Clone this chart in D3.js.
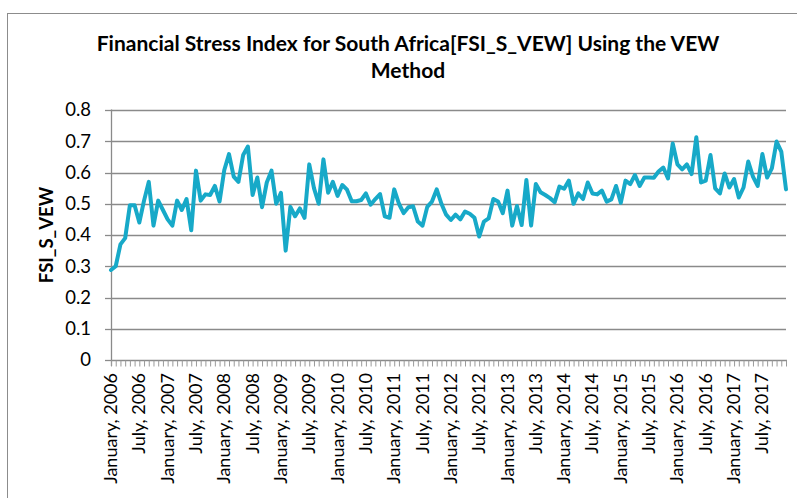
<!DOCTYPE html>
<html>
<head>
<meta charset="utf-8">
<script src="https://cdn.jsdelivr.net/npm/d3@7"></script>
<style>
  html, body { margin: 0; padding: 0; background: #fff; }
  svg { display: block; }
  text { font-family: Lato, "Open Sans", sans-serif; fill: #000; }
</style>
</head>
<body>
<svg id="chart" width="797" height="498"></svg>
<script>
// ---- data ----
const titleLines = ["Financial Stress Index for South Africa[FSI_S_VEW] Using the VEW", "Method"];
const yAxisTitle = "FSI_S_VEW";
const startMonth = "2006-01";
const values = [
  0.288, 0.300, 0.370, 0.390, 0.495, 0.495, 0.440, 0.510, 0.570, 0.430, 0.510, 0.480,
  0.450, 0.430, 0.510, 0.480, 0.515, 0.415, 0.606, 0.510, 0.530, 0.528, 0.557, 0.507,
  0.608, 0.659, 0.587, 0.570, 0.656, 0.683, 0.528, 0.584, 0.489, 0.568, 0.606, 0.500,
  0.535, 0.350, 0.490, 0.460, 0.485, 0.455, 0.626, 0.550, 0.500, 0.642, 0.535, 0.570,
  0.525, 0.560, 0.545, 0.508, 0.508, 0.512, 0.533, 0.497, 0.515, 0.531, 0.460, 0.455,
  0.546, 0.500, 0.470, 0.489, 0.492, 0.443, 0.430, 0.490, 0.507, 0.546, 0.500, 0.465,
  0.448, 0.465, 0.450, 0.475, 0.468, 0.455, 0.395, 0.443, 0.453, 0.515, 0.507, 0.470,
  0.542, 0.430, 0.493, 0.432, 0.576, 0.430, 0.563, 0.537, 0.528, 0.518, 0.505, 0.555,
  0.548, 0.574, 0.500, 0.533, 0.515, 0.568, 0.533, 0.530, 0.542, 0.507, 0.514, 0.557,
  0.503, 0.574, 0.563, 0.592, 0.557, 0.584, 0.584, 0.583, 0.603, 0.616, 0.581, 0.693,
  0.626, 0.610, 0.626, 0.595, 0.713, 0.568, 0.574, 0.656, 0.549, 0.533, 0.597, 0.552,
  0.579, 0.520, 0.552, 0.635, 0.587, 0.557, 0.659, 0.584, 0.613, 0.699, 0.667, 0.546
];
const xTickLabels = [
  "January, 2006", "July, 2006", "January, 2007", "July, 2007", "January, 2008", "July, 2008",
  "January, 2009", "July, 2009", "January, 2010", "July, 2010", "January, 2011", "July, 2011",
  "January, 2012", "July, 2012", "January, 2013", "July, 2013", "January, 2014", "July, 2014",
  "January, 2015", "July, 2015", "January, 2016", "July, 2016", "January, 2017", "July, 2017"
];
const yTickValues = [0, 0.1, 0.2, 0.3, 0.4, 0.5, 0.6, 0.7, 0.8];
const yTickLabels = ["0", "0.1", "0.2", "0.3", "0.4", "0.5", "0.6", "0.7", "0.8"];

// ---- layout ----
const svg = d3.select("#chart");
const plot = { left: 111, right: 786, top: 110, bottom: 360 };
const gridColor = "#8a8a8a";
const lineColor = "#17a9c8";

// chart border
svg.append("rect")
  .attr("x", 7.5).attr("y", 13.5).attr("width", 820).attr("height", 520)
  .attr("fill", "none").attr("stroke", "#8c8c8c").attr("stroke-width", 1);

const months = d3.range(values.length);
const x = d3.scalePoint().domain(months).range([plot.left, plot.right]);
const y = d3.scaleLinear().domain([0, 0.8]).range([plot.bottom, plot.top]);

// y axis labels
const yAxis = d3.axisLeft(y)
  .tickValues(yTickValues)
  .tickFormat((d, i) => yTickLabels[i])
  .tickSize(0);
const gy = svg.append("g").attr("transform", `translate(${plot.left},0)`).call(yAxis);
gy.select(".domain").remove();
gy.selectAll(".tick text")
  .attr("x", -20)
  .style("font-size", "18.5px")
  .style("font-family", "Lato, sans-serif")
  .attr("fill", "#000");

// gridlines
svg.append("g").selectAll("line.grid")
  .data(yTickValues.filter(v => v > 0))
  .join("line")
  .attr("x1", plot.left).attr("x2", plot.right)
  .attr("y1", d => Math.round(y(d)) + 0.5).attr("y2", d => Math.round(y(d)) + 0.5)
  .attr("stroke", gridColor).attr("stroke-width", 1.3);

// y major tick marks
svg.append("g").selectAll("line.ytick")
  .data(yTickValues)
  .join("line")
  .attr("x1", plot.left - 6).attr("x2", plot.left)
  .attr("y1", d => Math.round(y(d)) + 0.5).attr("y2", d => Math.round(y(d)) + 0.5)
  .attr("stroke", gridColor).attr("stroke-width", 1.3);

// y axis line
svg.append("line")
  .attr("x1", plot.left + 0.5).attr("x2", plot.left + 0.5)
  .attr("y1", plot.top - 0.5).attr("y2", plot.bottom + 6)
  .attr("stroke", gridColor).attr("stroke-width", 1.3);

// x axis with minor ticks for every month
const xAxis = d3.axisBottom(x).tickSize(6).tickFormat("");
const gx = svg.append("g").attr("transform", `translate(0,${plot.bottom + 0.5})`).call(xAxis);
gx.select(".domain").attr("stroke", gridColor).attr("stroke-width", 1.3)
  .attr("d", `M${plot.left},0H${plot.right + 1}`);
gx.selectAll(".tick line").attr("stroke", "#9a9a9a").attr("stroke-width", 1);

// x labels (every 6 months)
svg.append("g").selectAll("text.xl")
  .data(xTickLabels)
  .join("text")
  .attr("transform", (d, i) => `translate(${x(i * 6) + 6},${plot.bottom + 13}) rotate(-90)`)
  .attr("text-anchor", "end")
  .style("font-size", "18px")
  .text(d => d);

// line
const line = d3.line().x((d, i) => x(i)).y(d => y(d)).curve(d3.curveLinear);
svg.append("path")
  .datum(values)
  .attr("d", line)
  .attr("fill", "none")
  .attr("stroke", lineColor)
  .attr("stroke-width", 4)
  .attr("stroke-linejoin", "round")
  .attr("stroke-linecap", "round");

// y axis title
svg.append("text")
  .attr("transform", `translate(53,235) rotate(-90)`)
  .attr("text-anchor", "middle")
  .style("font-size", "18.5px")
  .style("font-weight", "bold")
  .text(yAxisTitle);

// title
function fitText(sel, target) {
  const w = sel.node().getComputedTextLength();
  const fs = parseFloat(sel.style("font-size"));
  sel.style("font-size", (fs * target / w) + "px");
}
const t1 = svg.append("text").attr("x", 408).attr("y", 51).attr("text-anchor", "middle")
  .style("font-size", "19px").style("font-weight", "bold").text(titleLines[0]);
fitText(t1, 623);
const fsT = t1.style("font-size");
svg.append("text").attr("x", 408).attr("y", 78).attr("text-anchor", "middle")
  .style("font-size", fsT).style("font-weight", "bold").text(titleLines[1]);
</script>
</body>
</html>
